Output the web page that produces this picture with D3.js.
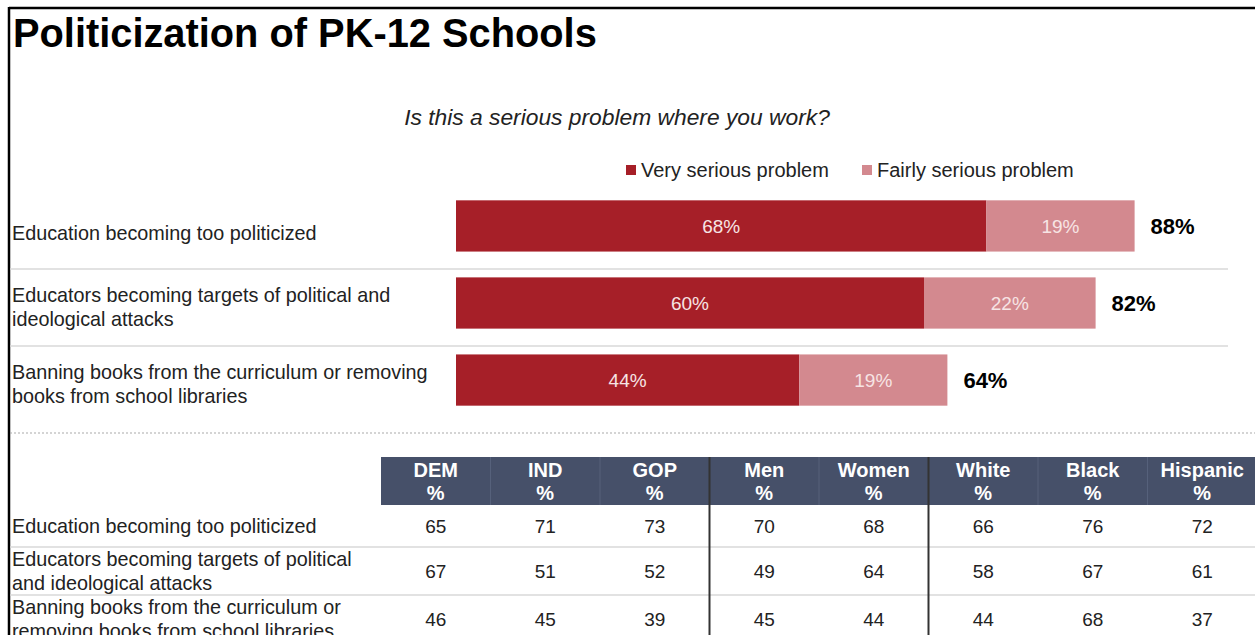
<!DOCTYPE html>
<html><head><meta charset="utf-8">
<script src="https://cdn.jsdelivr.net/npm/d3@7/dist/d3.min.js"></script>
<style>
html,body{margin:0;padding:0;background:#fff;}
svg{display:block;font-family:"Liberation Sans",Arial,sans-serif;}
</style></head>
<body>
<svg id="c" width="1255" height="635"></svg>
<script>
const title = "Politicization of PK-12 Schools";
const subtitle = "Is this a serious problem where you work?";
const seriesNames = ["Very serious problem", "Fairly serious problem"];
const categories = [
  ["Education becoming too politicized"],
  ["Educators becoming targets of political and", "ideological attacks"],
  ["Banning books from the curriculum or removing", "books from school libraries"]
];
const verySerious = [68, 60, 44];
const fairlySerious = [19, 22, 19];
const totals = [88, 82, 64];

const tableColumns = ["DEM", "IND", "GOP", "Men", "Women", "White", "Black", "Hispanic"];
const tableRowLabels = [
  ["Education becoming too politicized"],
  ["Educators becoming targets of political", "and ideological attacks"],
  ["Banning books from the curriculum or", "removing books from school libraries"]
];
const tableValues = [
  [65, 71, 73, 70, 68, 66, 76, 72],
  [67, 51, 52, 49, 64, 58, 67, 61],
  [46, 45, 39, 45, 44, 44, 68, 37]
];
const groupBreaks = ["Men", "White"];

const colors = ["#A61F28", "#D3898F"];
const svg = d3.select("#c");

// frame
svg.append("line").attr("x1", 9).attr("x2", 1255).attr("y1", 8).attr("y2", 8).attr("stroke", "#000").attr("stroke-width", 2.5);
svg.append("line").attr("x1", 9).attr("x2", 9).attr("y1", 7).attr("y2", 635).attr("stroke", "#000").attr("stroke-width", 2.5);

svg.append("text").attr("x", 13).attr("y", 47).attr("font-size", 39.8).attr("font-weight", "bold").attr("fill", "#000").text(title);
svg.append("text").attr("x", 617).attr("y", 125).attr("text-anchor", "middle").attr("font-size", 22.8).attr("font-style", "italic").attr("fill", "#222").text(subtitle);

// legend
const legX = [626, 862];
seriesNames.forEach((s, i) => {
  svg.append("rect").attr("x", legX[i]).attr("y", 165).attr("width", 10).attr("height", 10).attr("fill", colors[i]);
  svg.append("text").attr("x", legX[i] + 15).attr("y", 177).attr("font-size", 20).attr("fill", "#222").text(s);
});

// bars
const x = d3.scaleLinear().domain([0, 100]).range([456, 1236]);
const y = d3.scaleBand().domain(d3.range(categories.length)).range([188, 418]).paddingInner(0.335).paddingOuter(0.16);

const rows = svg.append("g").selectAll("g").data(categories).join("g");
rows.each(function(cat, i) {
  const g = d3.select(this);
  const y0 = y(i), h = y.bandwidth(), cy = y0 + h / 2;
  const v = verySerious[i], f = fairlySerious[i];
  g.append("rect").attr("x", x(0)).attr("y", y0).attr("width", x(v) - x(0)).attr("height", h).attr("fill", colors[0]);
  g.append("rect").attr("x", x(v)).attr("y", y0).attr("width", x(v + f) - x(v)).attr("height", h).attr("fill", colors[1]);
  g.append("text").attr("x", (x(0) + x(v)) / 2).attr("y", cy + 7).attr("text-anchor", "middle").attr("font-size", 19).attr("fill", "#F7E4E4").text(v + "%");
  g.append("text").attr("x", (x(v) + x(v + f)) / 2).attr("y", cy + 7).attr("text-anchor", "middle").attr("font-size", 19).attr("fill", "#F7E4E4").text(f + "%");
  g.append("text").attr("x", x(v + f) + 16).attr("y", cy + 8).attr("font-size", 22).attr("font-weight", "bold").attr("fill", "#000").text(totals[i] + "%");
  const lh = 23.5;
  const off = cat.length === 1 ? 14 : 11;
  const t = g.append("text").attr("x", 12).attr("font-size", 19.8).attr("fill", "#222");
  cat.forEach((line, k) => {
    t.append("tspan").attr("x", 12).attr("y", cy + off + (k - (cat.length - 1) / 2) * lh).text(line);
  });
  if (i < categories.length - 1) {
    const sy = y0 + h + 17.5;
    g.append("line").attr("x1", 10).attr("x2", 1228).attr("y1", sy).attr("y2", sy).attr("stroke", "#d9d9d9").attr("stroke-width", 1.5);
  }
});

// dotted divider
svg.append("line").attr("x1", 10).attr("x2", 1255).attr("y1", 433).attr("y2", 433).attr("stroke", "#aaa").attr("stroke-width", 1.2).attr("stroke-dasharray", "2,2");

// table
const cx = d3.scaleBand().domain(tableColumns).range([381, 1257]);
const headerTop = 457, headerBot = 505;
const rowHeights = [42, 48, 48];
const rowTops = rowHeights.map((h, i) => headerBot + d3.sum(rowHeights.slice(0, i)));

svg.append("rect").attr("x", 381).attr("y", headerTop).attr("width", 1257 - 381).attr("height", headerBot - headerTop).attr("fill", "#465069");
tableColumns.forEach((c, j) => {
  const mx = cx(c) + cx.bandwidth() / 2;
  if (j > 0) svg.append("line").attr("x1", cx(c)).attr("x2", cx(c)).attr("y1", headerTop).attr("y2", headerBot).attr("stroke", "#56617b").attr("stroke-width", 1);
  svg.append("text").attr("x", mx).attr("y", 477).attr("text-anchor", "middle").attr("font-size", 20).attr("font-weight", "bold").attr("fill", "#fff").text(c);
  svg.append("text").attr("x", mx).attr("y", 500).attr("text-anchor", "middle").attr("font-size", 20).attr("font-weight", "bold").attr("fill", "#fff").text("%");
});

tableRowLabels.forEach((lab, i) => {
  const y0 = rowTops[i], h = rowHeights[i], cyy = y0 + h / 2;
  const t = svg.append("text").attr("font-size", 19.8).attr("fill", "#222");
  lab.forEach((line, k) => {
    t.append("tspan").attr("x", 12).attr("y", cyy + 7 + (k - (lab.length - 1) / 2) * 24).text(line);
  });
  tableValues[i].forEach((v, j) => {
    svg.append("text").attr("x", cx(tableColumns[j]) + cx.bandwidth() / 2).attr("y", cyy + 7).attr("text-anchor", "middle").attr("font-size", 19).attr("fill", "#222").text(v);
  });
  if (i < tableRowLabels.length - 1) {
    svg.append("line").attr("x1", 10).attr("x2", 1255).attr("y1", y0 + h).attr("y2", y0 + h).attr("stroke", "#d9d9d9").attr("stroke-width", 1.5);
  }
});

groupBreaks.forEach(c => {
  svg.append("line").attr("x1", cx(c)).attr("x2", cx(c)).attr("y1", headerTop).attr("y2", 635).attr("stroke", "#333").attr("stroke-width", 2);
});
</script>
</body></html>
